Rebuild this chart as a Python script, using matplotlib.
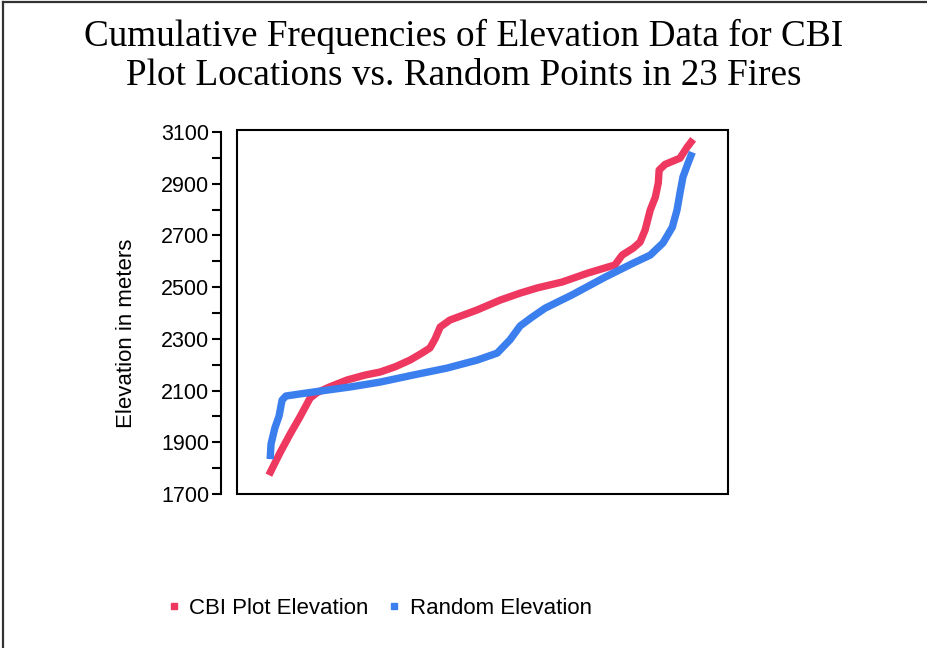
import matplotlib
matplotlib.use("Agg")
import matplotlib.pyplot as plt
from matplotlib.lines import Line2D
from matplotlib.patches import Rectangle

# cumulative frequency position (%) and elevation (m)
cbi_pct = [0.2, 2.8, 5.2, 7.5, 9.9, 11.5, 14.6, 18.6, 22.8, 26.4, 29.9, 33.4, 36.2, 38.1,
           39.3, 40.5, 42.8, 49.2, 54.6, 59.3, 63.3, 69.2, 75.3, 81.6, 83.3, 85.9, 87.5,
           88.7, 89.9, 91.1, 91.8, 92.0, 93.4, 96.9, 98.6, 100.0]
cbi_elev = [1773, 1859, 1932, 1998, 2071, 2092, 2115, 2141, 2160, 2172, 2192, 2218, 2245, 2265,
            2300, 2346, 2373, 2412, 2450, 2477, 2497, 2520, 2555, 2586, 2624, 2651, 2674,
            2721, 2798, 2848, 2903, 2953, 2975, 2999, 3042, 3072]

rand_pct = [0.5, 0.7, 1.6, 2.6, 3.3, 4.2, 7.5, 12.2, 19.3, 26.4, 34.1, 42.1, 49.2, 53.9,
            56.9, 59.3, 62.1, 65.2, 71.5, 79.3, 85.9, 89.9, 92.9, 95.1, 96.2, 96.9, 97.6,
            98.8, 99.8]
rand_elev = [1835, 1893, 1955, 2002, 2063, 2079, 2087, 2098, 2114, 2133, 2160, 2187, 2218, 2245,
             2296, 2350, 2384, 2419, 2470, 2539, 2593, 2624, 2671, 2732, 2798, 2864, 2926,
             2980, 3022]

yticks = [1700, 1900, 2100, 2300, 2500, 2700, 2900, 3100]

red = '#EE3860'
blue = '#3B7EEE'

plt.rcParams['font.family'] = ['Liberation Sans', 'DejaVu Sans']

fig = plt.figure(figsize=(9.28, 6.48), dpi=100)
ax = fig.add_axes([237/928, 1 - 494/648, 491/928, 364/648])

ax.plot(cbi_pct, cbi_elev, color=red, lw=5.3, solid_capstyle='butt')
ax.plot(rand_pct, rand_elev, color=blue, lw=5.3, solid_capstyle='butt')

ax.set_xlim(-7.3, 108.2)
ax.set_ylim(1700, 3108)

# box around the plot area
ax.add_patch(Rectangle((0, 0), 1, 1, transform=ax.transAxes, fill=False,
                       lw=1.5, ec='black', zorder=5, clip_on=False))
for s in ['top', 'right', 'bottom']:
    ax.spines[s].set_visible(False)
ax.spines['left'].set_position(('outward', 11.5))
ax.spines['left'].set_bounds(1700, 3100)
ax.spines['left'].set_linewidth(1.5)

ax.set_xticks([])
ax.set_yticks(yticks)
ax.set_yticks(range(1800, 3100, 200), minor=True)
ax.tick_params(axis='y', which='both', length=6.5, width=1.5, labelsize=15.5, pad=2)
ax.set_ylabel('Elevation in meters', fontsize=16)
ax.yaxis.set_label_coords((137 - 237) / 491, (494 - 333) / 364)

fig.text(0.5, 1 - 56/648, 'Cumulative Frequencies of Elevation Data for CBI\nPlot Locations vs. Random Points in 23 Fires',
         ha='center', va='center', fontsize=26.8, family='Liberation Serif', linespacing=1.17)

handles = [Line2D([], [], ls='none', marker='s', ms=5, color=red, label='CBI Plot Elevation'),
           Line2D([], [], ls='none', marker='s', ms=5, color=blue, label='Random Elevation')]
fig.legend(handles=handles, loc='center left', bbox_to_anchor=(148/928, 1 - 608/648),
           ncol=2, frameon=False, fontsize=16, handlelength=0.5, handletextpad=0.45,
           columnspacing=0.9)

# slide border (left and top edges)
fig.add_artist(Line2D([3/928, 3/928], [0, 1 - 2/648], transform=fig.transFigure, color='#333333', lw=1.6))
fig.add_artist(Line2D([3/928, 1], [1 - 2/648, 1 - 2/648], transform=fig.transFigure, color='#333333', lw=1.6))

fig.savefig('out.png', dpi=100)
